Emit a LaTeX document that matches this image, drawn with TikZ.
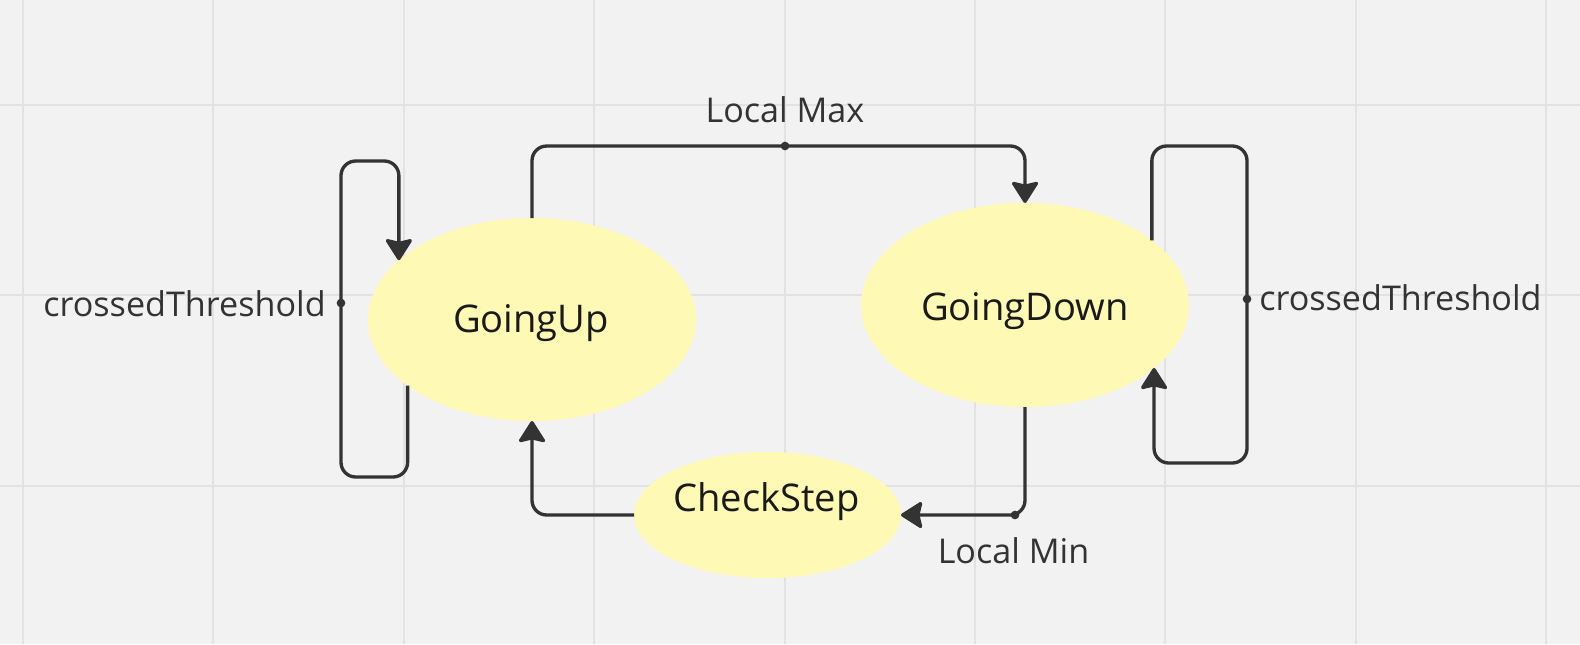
\documentclass[tikz,border=0pt]{standalone}
\usepackage{fontspec}
\setmainfont{Open Sans}
\usetikzlibrary{arrows.meta,shapes.geometric}
\definecolor{bg}{HTML}{F2F2F2}
\definecolor{gridc}{HTML}{E2E2E2}
\definecolor{stfill}{HTML}{FFF9B6}
\definecolor{linec}{HTML}{333333}
\definecolor{txtc}{HTML}{1A1A1A}
\begin{document}
\begin{tikzpicture}[x=0.75pt,y=-0.75pt,
  statebox/.style={ellipse, fill=stfill, draw=none, inner sep=0pt, outer sep=0pt},
  statetext/.style={anchor=base, inner sep=0pt, font=\fontsize{28.6pt}{31pt}\selectfont, text=txtc},
  edgetext/.style={inner sep=0pt, font=\fontsize{25.6pt}{28pt}\selectfont, text=linec},
  conn/.style={draw=linec, line width=2.5pt, rounded corners=11pt, -{Stealth[length=17.5pt,width=22pt,inset=2.5pt,round]}},
  joint/.style={circle, fill=linec, inner sep=0pt, minimum size=6.5pt}]
% background and grid
\fill[bg] (0,0) rectangle (1580,644);
\useasboundingbox (0,0) rectangle (1580,644);
\foreach \k in {0,...,8} {
  \draw[gridc, line width=1.5pt] ({23+190.4*\k},0) -- ({23+190.4*\k},644);
}
\foreach \k in {0,1,2} {
  \draw[gridc, line width=1.5pt] (0,{105+190.4*\k}) -- (1580,{105+190.4*\k});
}
% states
\node[statebox, minimum width=246pt, minimum height=152.25pt] (gu) at (532,319.5) {};
\node[statebox, minimum width=246pt, minimum height=153pt] (gd) at (1025,305) {};
\node[statebox, minimum width=200.25pt, minimum height=94.5pt] (cs) at (767.5,515) {};
\node[statetext] (gutext) at (531,332.7) {GoingUp};
\node[statetext] (gdtext) at (1025,320) {GoingDown};
\node[statetext] (cstext) at (766.5,511.7) {CheckStep};
% bend coordinates
\coordinate (lb) at (341,477);
\coordinate (lt) at (341,161);
\coordinate (rt) at (1247,146);
\coordinate (rb) at (1247,463);
\coordinate (lmax) at (785,146);
\coordinate (lmin) at (1015,515);
\coordinate (lthr) at (341,303);
\coordinate (rthr) at (1247,299);
% connectors
\draw[conn] (gu.208.9) |- (lb) -- (lt) -| (gu.156.4);
\draw[conn] (gu.north) |- (lmax) -| (gd.north);
\draw[conn] (gd.27.8) |- (rt) -- (rb) -| (gd.334.5);
\draw[conn] (gd.south) |- (cs.east);
\draw[conn] (cs.west) -| (gu.south);
% joints
\node[joint] (jl) at (lthr) {};
\node[joint] (jr) at (rthr) {};
\node[joint] (jmax) at (lmax) {};
\node[joint] (jmin) at (lmin) {};
% labels
\node[edgetext, anchor=base east] (lblthrl) at (326,316) {crossedThreshold};
\node[edgetext, anchor=base west] (lblthrr) at (1259,310.7) {crossedThreshold};
\node[edgetext, anchor=base] (lblmax) at (785,122.7) {Local Max};
\node[edgetext, anchor=base] (lblmin) at (1013.5,563) {Local Min};
\end{tikzpicture}
\end{document}
